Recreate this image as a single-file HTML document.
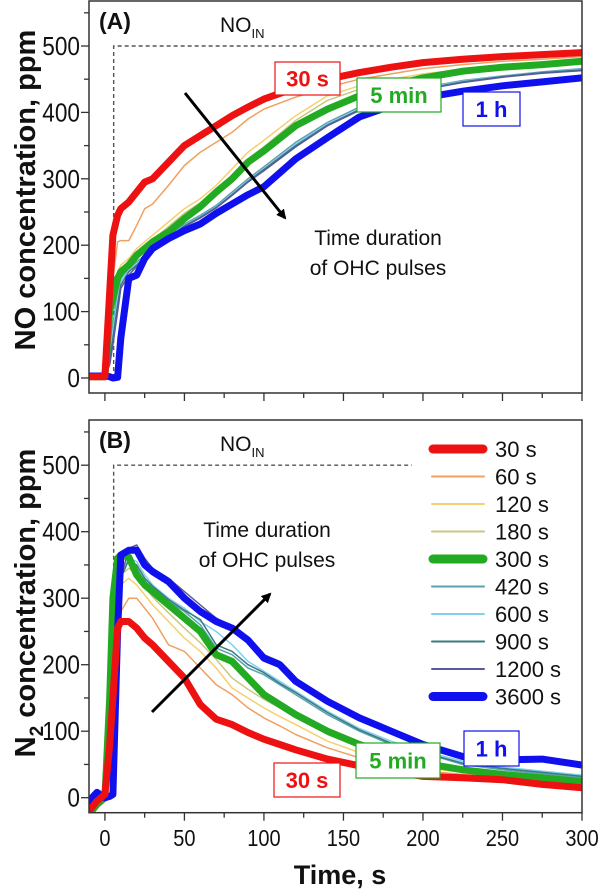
<!DOCTYPE html>
<html><head><meta charset="utf-8">
<style>
html,body{margin:0;padding:0;background:#fff;}
svg{display:block;font-family:"Liberation Sans",Arial,sans-serif;}
</style></head>
<body>
<svg id="chart" width="600" height="889" viewBox="0 0 600 889"></svg>
<script>
const timeA = [-10,0,3,5,8,10,15,20,25,30,40,50,60,70,80,90,100,120,140,160,180,200,225,250,275,300];
const noA_30s  = [2,2,130,215,245,255,265,280,295,300,325,350,365,380,395,408,420,437,450,460,468,475,480,484,487,490];
const noA_60s  = [2,2,80,150,205,207,207,230,255,262,290,320,340,355,370,390,405,423,438,450,458,466,472,477,480,484];
const noA_120s = [2,2,80,130,160,170,180,195,205,215,235,255,270,290,315,340,358,395,425,440,450,458,465,470,474,478];
const noA_180s = [2,2,70,120,150,162,172,187,198,208,228,248,264,283,305,330,348,388,418,435,446,455,462,467,471,475];
const noA_300s = [2,2,100,120,150,160,170,185,195,205,220,240,258,280,300,325,342,380,405,425,440,452,462,468,472,477];
const noA_420s = [2,2,40,80,130,150,165,175,185,200,215,232,245,260,280,300,318,355,385,408,425,437,448,455,461,466];
const noA_600s = [2,2,30,70,120,145,162,172,183,197,212,230,243,258,277,297,315,352,383,405,423,436,447,455,460,465];
const noA_900s = [2,2,30,60,110,140,160,170,182,196,211,229,242,257,276,296,314,350,381,404,422,435,446,454,460,464];
const noA_1200s= [2,2,20,50,100,135,155,168,180,195,210,228,241,256,275,295,312,348,380,403,421,434,445,453,459,463];
const noA_3600s= [3,3,2,0,1,60,150,155,180,195,210,222,232,248,262,276,288,330,362,393,410,422,432,440,446,452];

const timeB = [-10,-5,0,3,5,8,10,15,20,25,30,40,50,60,70,80,90,100,110,120,140,160,180,200,225,250,275,300];
const n2B_30s  = [-20,-5,5,80,150,255,265,265,255,240,230,205,180,140,118,110,98,88,80,72,58,48,40,32,30,27,20,15];
const n2B_60s  = [-15,-5,0,100,200,260,280,300,300,285,270,230,220,195,170,155,135,120,108,95,75,60,50,40,35,30,25,20];
const n2B_120s = [-15,-5,0,110,220,300,320,330,320,305,290,265,240,220,195,165,150,135,122,110,85,68,55,45,38,32,27,22];
const n2B_180s = [-15,-5,0,120,230,310,335,345,335,318,302,278,255,233,208,180,163,148,135,122,95,76,62,50,42,36,30,25];
const n2B_300s = [-25,-10,0,150,300,360,365,362,335,320,310,290,270,250,215,205,180,155,140,125,100,80,65,52,42,35,30,24];
const n2B_420s = [-10,0,0,60,150,300,340,355,345,325,315,295,280,260,225,215,195,185,170,155,125,100,80,68,50,42,36,30];
const n2B_600s = [-10,0,0,50,140,290,335,360,355,335,320,300,285,265,250,230,205,190,175,160,130,104,85,70,55,46,40,34];
const n2B_900s = [-10,0,0,40,120,280,330,358,350,330,318,298,282,268,230,220,200,188,172,158,128,102,82,68,52,44,38,32];
const n2B_1200s= [-10,0,0,30,100,260,330,375,380,360,345,330,310,290,270,258,240,215,205,180,148,122,102,82,64,58,57,45];
const n2B_3600s= [-5,8,0,2,5,250,365,372,372,350,340,325,300,280,265,255,237,210,200,175,145,120,100,80,62,57,58,49];

const seriesNames = ['30 s','60 s','120 s','180 s','300 s','420 s','600 s','900 s','1200 s','3600 s'];
const xTicks = [0,50,100,150,200,250,300];
const yTicks = [0,100,200,300,400,500];
const noInLevel = [500];

const colors = ['#ee1111','#f0a060','#f5d070','#c8c880','#22aa22','#5aa0b0','#80d0f0','#3a7a80','#5a5a9a','#1010ee'];
const widths = [7,1.5,1.5,1.5,7,1.5,1.5,1.5,1.5,7];
const dataA = [noA_30s,noA_60s,noA_120s,noA_180s,noA_300s,noA_420s,noA_600s,noA_900s,noA_1200s,noA_3600s];
const dataB = [n2B_30s,n2B_60s,n2B_120s,n2B_180s,n2B_300s,n2B_420s,n2B_600s,n2B_900s,n2B_1200s,n2B_3600s];
const drawOrder = [1,2,3,5,6,7,8,4,9,0];

const NS='http://www.w3.org/2000/svg';
const svg=document.getElementById('chart');
function mk(tag,attrs,parent,text){const e=document.createElementNS(NS,tag);for(const k in attrs)e.setAttribute(k,attrs[k]);if(text!==undefined)e.textContent=text;(parent||svg).appendChild(e);return e;}

const X0=89, X1=582;
function xs(t){return X0+(t+10)*(X1-X0)/310;}
const panels=[
 {top:1,bottom:393,y0:378,scale:0.664,name:'a'},
 {top:420,bottom:812.7,y0:797.7,scale:0.665,name:'b'}
];
function ysFn(p){return v=>p.y0-v*p.scale;}

panels.forEach((p,pi)=>{
  const ys=ysFn(p);
  const g=mk('g',{});
  
  
  const clipId='clip'+pi;
  const cp=mk('clipPath',{id:clipId},g);
  mk('rect',{x:X0,y:p.top,width:X1-X0,height:p.bottom-p.top},cp);
  const dx=xs(5.5);
  const endT = pi===0?300:193;
  const dash=mk('path',{d:`M${dx},${ys(0)} L${dx},${ys(noInLevel[0])} L${xs(endT)},${ys(noInLevel[0])}`,fill:'none',stroke:'#555','stroke-width':1.4,'stroke-dasharray':'4,3','clip-path':`url(#${clipId})`},g);
  
  
  const times = pi===0?timeA:timeB;
  const data = pi===0?dataA:dataB;
  drawOrder.forEach(i=>{
    const d=data[i].map((v,j)=>(j?'L':'M')+xs(times[j]).toFixed(1)+','+ys(v).toFixed(1)).join(' ');
    const pth=mk('path',{d:d,fill:'none',stroke:colors[i],'stroke-width':widths[i],'stroke-linejoin':'round','stroke-linecap':'round','clip-path':`url(#${clipId})`},g);
    
    
  });
  const fr=mk('rect',{x:X0,y:p.top,width:X1-X0,height:p.bottom-p.top,fill:'none',stroke:'#333','stroke-width':1.5},g);
  
  
  for(let v=0;v<=550;v+=50){
    const y=ys(v); if(y<p.top+1) continue;
    const major=v%100===0;
    mk('line',{x1:X0,x2:X0-(major?8:5),y1:y,y2:y,stroke:'#333','stroke-width':1.3},g);
  }
  yTicks.forEach(v=>{
    const t=mk('text',{transform:`translate(80,${ys(v)+9}) scale(0.87,1)`,'text-anchor':'end','font-size':26,fill:'#111'},g,String(v));
    
    
  });
  for(let v=0;v<=300;v+=25){
    const major=v%50===0;
    mk('line',{x1:xs(v),x2:xs(v),y1:p.bottom,y2:p.bottom+(major?8:5),stroke:'#333','stroke-width':1.3},g);
  }
  if(pi===1){
    xTicks.forEach(v=>{
      const t=mk('text',{transform:`translate(${xs(v)},846) scale(0.87,1)`,'text-anchor':'middle','font-size':23,fill:'#111'},g,String(v));
      
      
    });
  }
  const pl=mk('text',{x:99,y:p.top+28,'font-size':23,'font-weight':'bold',fill:'#111'},g,pi===0?'(A)':'(B)');
  
  
  const no=mk('text',{x:220,y:p.top+31,'font-size':21,fill:'#111'},g);
  
  
  mk('tspan',{},no,'NO');
  mk('tspan',{dy:6,'font-size':13},no,'IN');
});

function box(x,y,w,h,color,text,name){
  const g=mk('g',{});
  
  
  mk('rect',{x:x,y:y,width:w,height:h,fill:'#fff',stroke:color,'stroke-width':1.2},g);
  mk('text',{x:x+w/2,y:y+h/2+8,'text-anchor':'middle','font-size':22,'font-weight':'bold',fill:color},g,text);
}
box(275,62,65,33,'#ee1111','30 s','label-30s-a');
box(357,78,84,34,'#22aa22','5 min','label-5min-a');
box(463,92,57,34,'#1010ee','1 h','label-1h-a');
box(274,763,66,34,'#ee1111','30 s','label-30s-b');
box(356,743,84,35,'#22aa22','5 min','label-5min-b');
box(464,731,55,35,'#1010ee','1 h','label-1h-b');

mk('defs',{}).innerHTML='<marker id="ah" markerWidth="10" markerHeight="10" refX="8" refY="5" orient="auto" markerUnits="userSpaceOnUse"><path d="M0,0 L10,5 L0,10 z" fill="#000"/></marker>';
function arrow(x1,y1,x2,y2,name){
  const a=mk('line',{x1:x1,y1:y1,x2:x2,y2:y2,stroke:'#000','stroke-width':3,'marker-end':'url(#ah)'});
  
  
}
arrow(185,93,285,218,'trend-arrow-a');
arrow(152,712,270,594,'trend-arrow-b');
function note(cx,y1,name){
  const t=mk('text',{'font-size':21,fill:'#111','text-anchor':'middle'});
  
  
  mk('tspan',{x:cx,y:y1},t,'Time duration');
  mk('tspan',{x:cx,y:y1+30},t,'of OHC pulses');
}
note(378,245,'annotation-a');
note(267,537,'annotation-b');

const lg=mk('g',{});


seriesNames.forEach((n,i)=>{
  const y=449+i*27.5;
  const e=mk('g',{},lg);
  
  
  mk('line',{x1:widths[i]>3?433:432,x2:widths[i]>3?483:484,y1:y,y2:y,stroke:colors[i],'stroke-width':widths[i]>3?9:2,'stroke-linecap':'round'},e);
  mk('text',{x:495,y:y+8,'font-size':22,fill:'#111'},e,n);
});

const ya=mk('text',{x:0,y:0,transform:'translate(35,190) rotate(-90)','text-anchor':'middle','font-size':29,'font-weight':'bold',fill:'#111'},svg,'NO concentration, ppm');


const yb=mk('text',{x:0,y:0,transform:'translate(35,603) rotate(-90)','text-anchor':'middle','font-size':29,'font-weight':'bold',fill:'#111'});


mk('tspan',{},yb,'N');
mk('tspan',{dy:8,'font-size':19},yb,'2');
mk('tspan',{dy:-8},yb,' concentration, ppm');
const xt=mk('text',{x:340,y:884,'text-anchor':'middle','font-size':27,'font-weight':'bold',fill:'#111'},svg,'Time, s');


</script>
</body></html>
